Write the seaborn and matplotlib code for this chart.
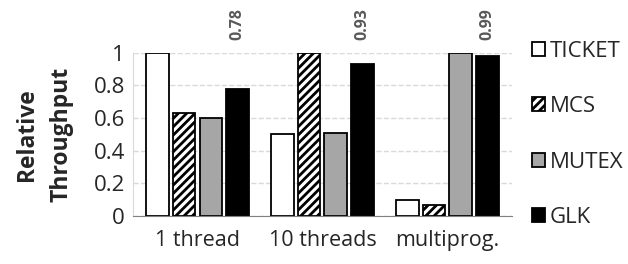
import pandas as pd
import matplotlib.pyplot as plt
import seaborn as sns

# values
categories = ['1 thread', '10 threads', 'multiprog.']
locks = ['TICKET', 'MCS', 'MUTEX', 'GLK']
ticket = [1.0, 0.50, 0.095]
mcs = [0.63, 1.0, 0.065]
mutex = [0.60, 0.51, 1.0]
glk = [0.78, 0.93, 0.98]
glk_labels = ['0.78', '0.93', '0.99']

rows = []
for name, vals in zip(locks, [ticket, mcs, mutex, glk]):
    for cat, v in zip(categories, vals):
        rows.append({'category': cat, 'lock': name, 'value': v})
data = pd.DataFrame(rows)

sns.set_style('white')
plt.rcParams['font.family'] = ['Open Sans', 'DejaVu Sans']
plt.rcParams['hatch.linewidth'] = 2.0

colors = {'TICKET': 'white', 'MCS': 'white', 'MUTEX': '#a6a6a6', 'GLK': 'black'}

fig, ax = plt.subplots(figsize=(6.28, 2.64), dpi=100)
fig.subplots_adjust(left=0.212, right=0.815, bottom=0.182, top=0.80)

sns.barplot(data=data, x='category', y='value', hue='lock', hue_order=locks,
            palette=colors, edgecolor='black', linewidth=1.3, width=0.86, gap=0.15,
            ax=ax, legend=True)

# hatch the MCS bars
n = len(categories)
for i, bar in enumerate(ax.patches[:4 * n]):
    if i // n == 1:
        bar.set_hatch('////')

ax.set_ylim(0, 1)
ax.set_yticks([0, 0.2, 0.4, 0.6, 0.8, 1])
ax.set_yticklabels(['0', '0.2', '0.4', '0.6', '0.8', '1'])
ax.yaxis.grid(True, color='#d9d9d9', linestyle='--', linewidth=1)
ax.set_axisbelow(True)
ax.tick_params(axis='y', labelsize=16, length=0, pad=6)
ax.tick_params(axis='x', labelsize=15.5, length=0, pad=10)
ax.set_xlabel('')
ax.set_ylabel('Relative\nThroughput', fontsize=16.5, fontweight='bold',
              labelpad=14, linespacing=1.6)
ax.set_xlim(-0.515, 2.515)

for s in ['top', 'right']:
    ax.spines[s].set_visible(False)
ax.spines['left'].set_color('#d9d9d9')
ax.spines['bottom'].set_color('#808080')

# GLK labels above the plot area
glk_bars = ax.patches[3 * n:4 * n]
for bar, lab in zip(glk_bars, glk_labels):
    ax.text(bar.get_x() + bar.get_width() / 2, 1.08, lab, rotation=90,
            ha='center', va='bottom', fontsize=11.5, fontweight='bold',
            color='#595959', transform=ax.get_xaxis_transform(), clip_on=False)

handles, labels = ax.get_legend_handles_labels()
for h in handles:
    h.set_linewidth(1.3)
handles[1].set_hatch('////')
ax.legend(handles, labels, loc='center left', bbox_to_anchor=(1.0, 0.5),
          frameon=False, fontsize=16, labelspacing=1.55, handlelength=0.6,
          handleheight=0.6, handletextpad=0.2, borderaxespad=0.5)

fig.savefig('out.png', dpi=100)
